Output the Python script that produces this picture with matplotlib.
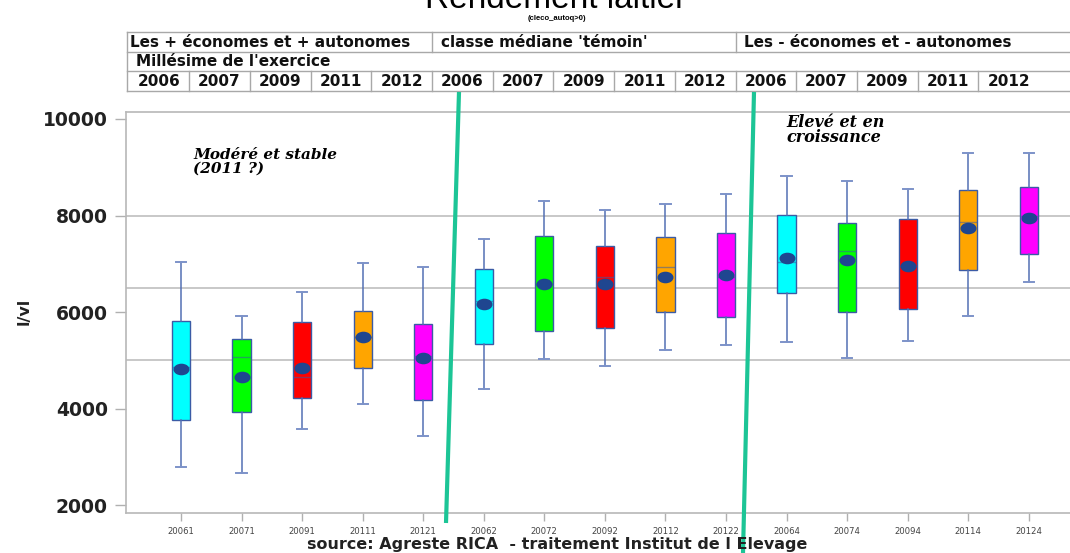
import numpy as np
import matplotlib
matplotlib.use('Agg')
import matplotlib.pyplot as plt
from matplotlib.lines import Line2D
from matplotlib.path import Path
from matplotlib.transforms import Affine2D

# milk yield per cow (l/vl), one box per year x class
codes = ['20061', '20071', '20091', '20111', '20121',
         '20062', '20072', '20092', '20112', '20122',
         '20064', '20074', '20094', '20114', '20124']
whislo = [2790, 2660, 3590, 4100, 3440, 4400, 5040, 4880, 5210, 5310, 5380, 5060, 5400, 5920, 6620]
q1 = [3760, 3940, 4215, 4850, 4190, 5350, 5620, 5670, 6000, 5890, 6390, 6000, 6070, 6870, 7200]
med = [4860, 5080, 4660, 5490, 5100, 6230, 6580, 6720, 6940, 6730, 7030, 7260, 6960, 7870, 8000]
q3 = [5820, 5440, 5800, 6030, 5750, 6890, 7580, 7380, 7550, 7630, 8020, 7850, 7920, 8520, 8600]
whishi = [7030, 5930, 6410, 7010, 6930, 7520, 8300, 8110, 8240, 8450, 8820, 8720, 8560, 9300, 9300]
means = [4820, 4660, 4850, 5490, 5060, 6160, 6580, 6590, 6730, 6770, 7120, 7090, 6960, 7740, 7940]

group_labels = ["Les + économes et + autonomes", "classe médiane 'témoin'",
                "Les - économes et - autonomes"]
years = ['2006', '2007', '2009', '2011', '2012']
box_colors = ['#00ffff', '#00ff00', '#ff0000', '#ffa500', '#ff00ff']

W, H = 1070, 553
fig = plt.figure(figsize=(W / 100, H / 100), dpi=100)


def fx(px):
    return px / W


def fy(py):
    return 1 - py / H


ax = fig.add_axes([fx(126), fy(512.7), 1 - fx(126), (512.7 - 111.7) / H])

stats = []
for c, a, b, m, d, e, mu in zip(codes, whislo, q1, med, q3, whishi, means):
    stats.append(dict(label=c, whislo=a, q1=b, med=m, q3=d, whishi=e, mean=mu, fliers=[]))

pos = np.arange(len(codes))
ellipse = Path.unit_circle().transformed(Affine2D().scale(1, 0.7))
bp = ax.bxp(stats, positions=pos, widths=0.3, capwidths=0.17, showmeans=True,
            patch_artist=True, showfliers=False,
            boxprops=dict(edgecolor='#3b5ba5', linewidth=1),
            whiskerprops=dict(color='#5470b4', linewidth=1.1),
            capprops=dict(color='#7d93c9', linewidth=1.4),
            medianprops=dict(color='#3b5ba5', alpha=0.55, linewidth=1),
            meanprops=dict(marker=ellipse, markerfacecolor='#1f4690',
                           markeredgecolor='#1f4690', markersize=10.5))
for patch, c in zip(bp['boxes'], box_colors * 3):
    patch.set_facecolor(c)

for yv in [5000, 6500, 8000]:
    ax.axhline(yv, color='#c4c4c4', lw=1.3, zorder=0.5)

ax.set_xlim(-0.908, 14.68)
ax.set_ylim(1847, 10151)
ax.set_xticks(pos)
ax.set_xticklabels(codes, fontsize=6.1, color='#444444')
ax.set_yticks([2000, 4000, 6000, 8000, 10000])
ax.set_yticklabels(['2000', '4000', '6000', '8000', '10000'],
                   fontsize=13.5, fontweight='bold', color='#222222')
ax.tick_params(axis='y', length=8, width=1, color='#b0b0b0', pad=5)
ax.tick_params(axis='x', length=6, width=1, color='#b0b0b0', pad=4)
ax.spines['right'].set_visible(False)
for s in ['left', 'top', 'bottom']:
    ax.spines[s].set_color('#b8b8b8')
    ax.spines[s].set_linewidth(1.2)

# comments inside the plot
ax.text(fx(193), fy(162), "Modéré et stable\n(2011 ?)", transform=fig.transFigure,
        family='DejaVu Serif', style='italic', fontweight='bold', fontsize=11,
        va='center', ha='left', linespacing=0.95)
ax.text(fx(786), fy(130), "Elevé et en\ncroissance", transform=fig.transFigure,
        family='DejaVu Serif', style='italic', fontweight='bold', fontsize=11.5,
        va='center', ha='left', linespacing=0.8)

# titles
fig.text(fx(556), fy(7.5), 'Rendement laitier', fontsize=24, ha='center', va='baseline',
         family='Liberation Sans')
fig.text(fx(557), fy(18.5), '(cleco_autoq>0)', fontsize=5.5, ha='center', va='center',
         fontweight='bold', family='Liberation Sans')
fig.text(fx(24), fy(311), 'l/vl', rotation=90, fontsize=11.5, fontweight='bold',
         ha='center', va='center', color='#222222')
fig.text(fx(557), fy(544), 'source: Agreste RICA  - traitement Institut de l Elevage',
         fontsize=11.5, fontweight='bold', ha='center', va='center', color='#222222')

# header table above the plot
grid_c = '#a8a8a8'
x0, cw = 128.5, 60.7
rows = [32, 52, 71, 91]
for r in rows:
    fig.add_artist(Line2D([fx(127), 1], [fy(r), fy(r)], color=grid_c, lw=1))
fig.add_artist(Line2D([fx(127), fx(127)], [fy(32), fy(91)], color=grid_c, lw=1))
for g in range(1, 3):
    xb = x0 + g * 5 * cw
    fig.add_artist(Line2D([fx(xb), fx(xb)], [fy(32), fy(52)], color=grid_c, lw=1))
for k in range(1, 15):
    xb = x0 + k * cw
    fig.add_artist(Line2D([fx(xb), fx(xb)], [fy(71), fy(91)], color=grid_c, lw=1))

hdr = dict(fontsize=11, fontweight='bold', color='#111111', va='center')
for g, lab in enumerate(group_labels):
    xt = 130 if g == 0 else x0 + g * 5 * cw + 9
    fig.text(fx(xt), fy(42.5), lab, ha='left', **hdr)
fig.text(fx(136), fy(62), "Millésime de l'exercice", ha='left', **hdr)
for k in range(15):
    fig.text(fx(x0 + (k + 0.5) * cw), fy(81.5), years[k % 5], ha='center', **hdr)

# separators between the three classes
sep_c = '#1cc596'
fig.add_artist(Line2D([fx(459), fx(446)], [fy(92), fy(523)], color=sep_c, lw=3,
                      solid_capstyle='butt'))
fig.add_artist(Line2D([fx(754), fx(743)], [fy(92), fy(553)], color=sep_c, lw=3,
                      solid_capstyle='butt'))

fig.savefig('out.png', dpi=100)
